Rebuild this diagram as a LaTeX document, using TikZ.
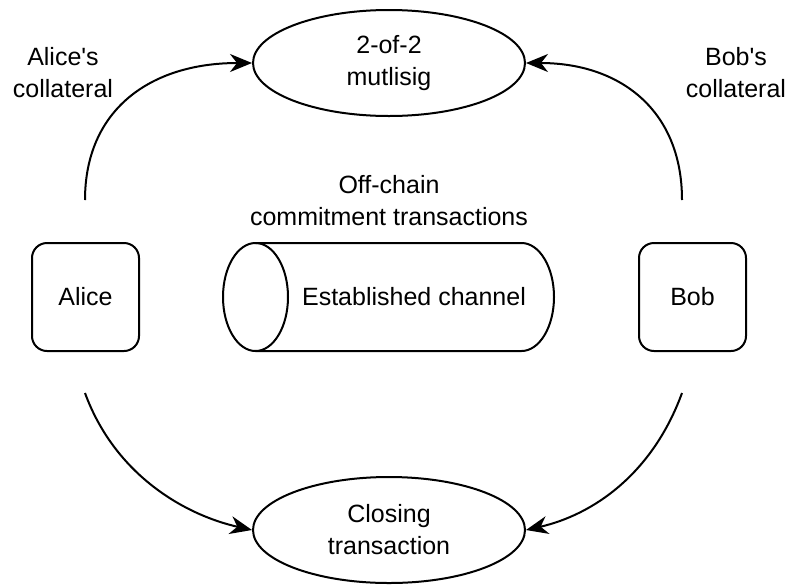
\documentclass[tikz,border=0pt]{standalone}
\usepackage{fontspec}
\setmainfont{Liberation Sans}
\usetikzlibrary{arrows.meta,shapes.geometric}
\begin{document}
\begin{tikzpicture}[x=1pt,y=-1pt,
  every node/.style={font=\fontsize{25}{32}\selectfont, align=center},
  lw/.style={line width=2pt},
  oval/.style={lw, draw, ellipse, minimum width=272pt, minimum height=106pt, inner sep=0pt},
  party/.style={lw, draw, rounded corners=15pt, minimum width=107pt, minimum height=108pt, inner sep=0pt},
  link/.style={lw, -{Stealth[length=22pt, width=18pt, inset=7pt]}},
  lbl/.style={inner sep=0pt}
]
\useasboundingbox (0,0) rectangle (789,584);

% outcome transactions
\node[oval] (multisig) at (389,63) {2-of-2\\mutlisig};
\node[oval] (closing) at (389,530) {Closing\\transaction};

% the two parties
\node[party] (alice) at (85.5,297) {Alice};
\node[party] (bob) at (692.5,297) {Bob};

% payment channel drawn as a lying cylinder
\draw[lw] (255.5,243) -- (521.5,243) arc[start angle=90, end angle=-90, x radius=32.5, y radius=-54] -- (255.5,351);
\draw[lw] (255.5,297) ellipse [x radius=32.5, y radius=54];
\node[lbl] (channel) at (414,297) {Established channel};
\node[lbl] (offchain) at (389,201) {Off-chain\\commitment transactions};

% collateral labels
\node[lbl] (alicecol) at (63,73) {Alice\textquotesingle s\\collateral};
\node[lbl] (bobcol) at (736,73) {Bob\textquotesingle s\\collateral};

% free ends of the connectors
\coordinate (aup) at (85,200);
\coordinate (bup) at (682,200);
\coordinate (adown) at (85,393);
\coordinate (bdown) at (682,393);

\draw[link] (aup) .. controls (85,110) and (150,63) .. (multisig.west);
\draw[link] (bup) .. controls (682,110) and (620,63) .. (multisig.east);
\draw[link] (adown) .. controls (115,475) and (185,515) .. (closing.west);
\draw[link] (bdown) .. controls (652,475) and (592,515) .. (closing.east);
\end{tikzpicture}
\end{document}
